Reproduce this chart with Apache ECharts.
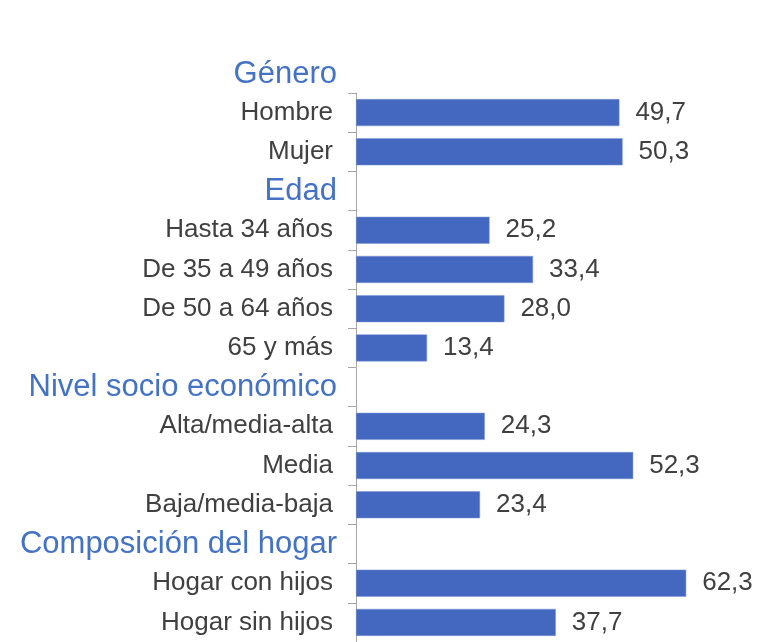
<!DOCTYPE html>
<html>
<head>
<meta charset="utf-8">
<script src="https://cdn.jsdelivr.net/npm/echarts@6/dist/echarts.min.js"></script>
<style>
  html, body { margin: 0; padding: 0; background: #fff; }
  #chart { width: 757px; height: 642px; }
</style>
</head>
<body>
<div id="chart"></div>
<script>
// first group title sits above the axis
const firstTitle = "Género";
const categories = [
  "Hombre", "Mujer",
  "Edad", "Hasta 34 años", "De 35 a 49 años", "De 50 a 64 años", "65 y más",
  "Nivel socio económico", "Alta/media-alta", "Media", "Baja/media-baja",
  "Composición del hogar", "Hogar con hijos", "Hogar sin hijos"
];
const headers = ["Edad", "Nivel socio económico", "Composición del hogar"];
const values = [
  49.7, 50.3,
  "-", 25.2, 33.4, 28.0, 13.4,
  "-", 24.3, 52.3, 23.4,
  "-", 62.3, 37.7
];

let myChart = echarts.init(document.getElementById("chart"));
let font = "Liberation Sans, Arial, sans-serif";

let option = {
  animation: false,
  title: {
    text: firstTitle,
    right: 415,
    top: 54,
    textStyle: {
      color: "#4472c4",
      fontSize: 31,
      fontWeight: "normal",
      fontFamily: font
    }
  },
  grid: {
    left: 356,
    top: 93,
    width: 371,
    height: 554
  },
  xAxis: {
    type: "value",
    min: 0,
    max: 70,
    show: false
  },
  yAxis: {
    type: "category",
    inverse: true,
    data: categories,
    axisLine: {
      show: true,
      lineStyle: { color: "#a6a6a6", width: 1 }
    },
    axisTick: {
      show: true,
      length: 8,
      lineStyle: { color: "#a6a6a6" }
    },
    axisLabel: {
      margin: 19,
      formatter: function (v) {
        return headers.indexOf(v) >= 0 ? "{h|" + v + "}" : "{n|" + v + "}";
      },
      rich: {
        h: {
          color: "#4472c4",
          fontSize: 31,
          fontFamily: font
        },
        n: {
          color: "#404040",
          fontSize: 26,
          fontFamily: font,
          padding: [0, 4, 0, 0]
        }
      }
    }
  },
  series: [
    {
      type: "bar",
      data: values,
      barWidth: 27,
      itemStyle: {
        color: "#4468c0",
        borderColor: "#7a95d6",
        borderWidth: 0.5
      },
      label: {
        show: true,
        position: "right",
        distance: 16,
        color: "#404040",
        fontSize: 26,
        fontFamily: font,
        formatter: function (p) {
          return p.value.toFixed(1).replace(".", ",");
        }
      }
    }
  ]
};
myChart.setOption(option);
</script>
</body>
</html>
